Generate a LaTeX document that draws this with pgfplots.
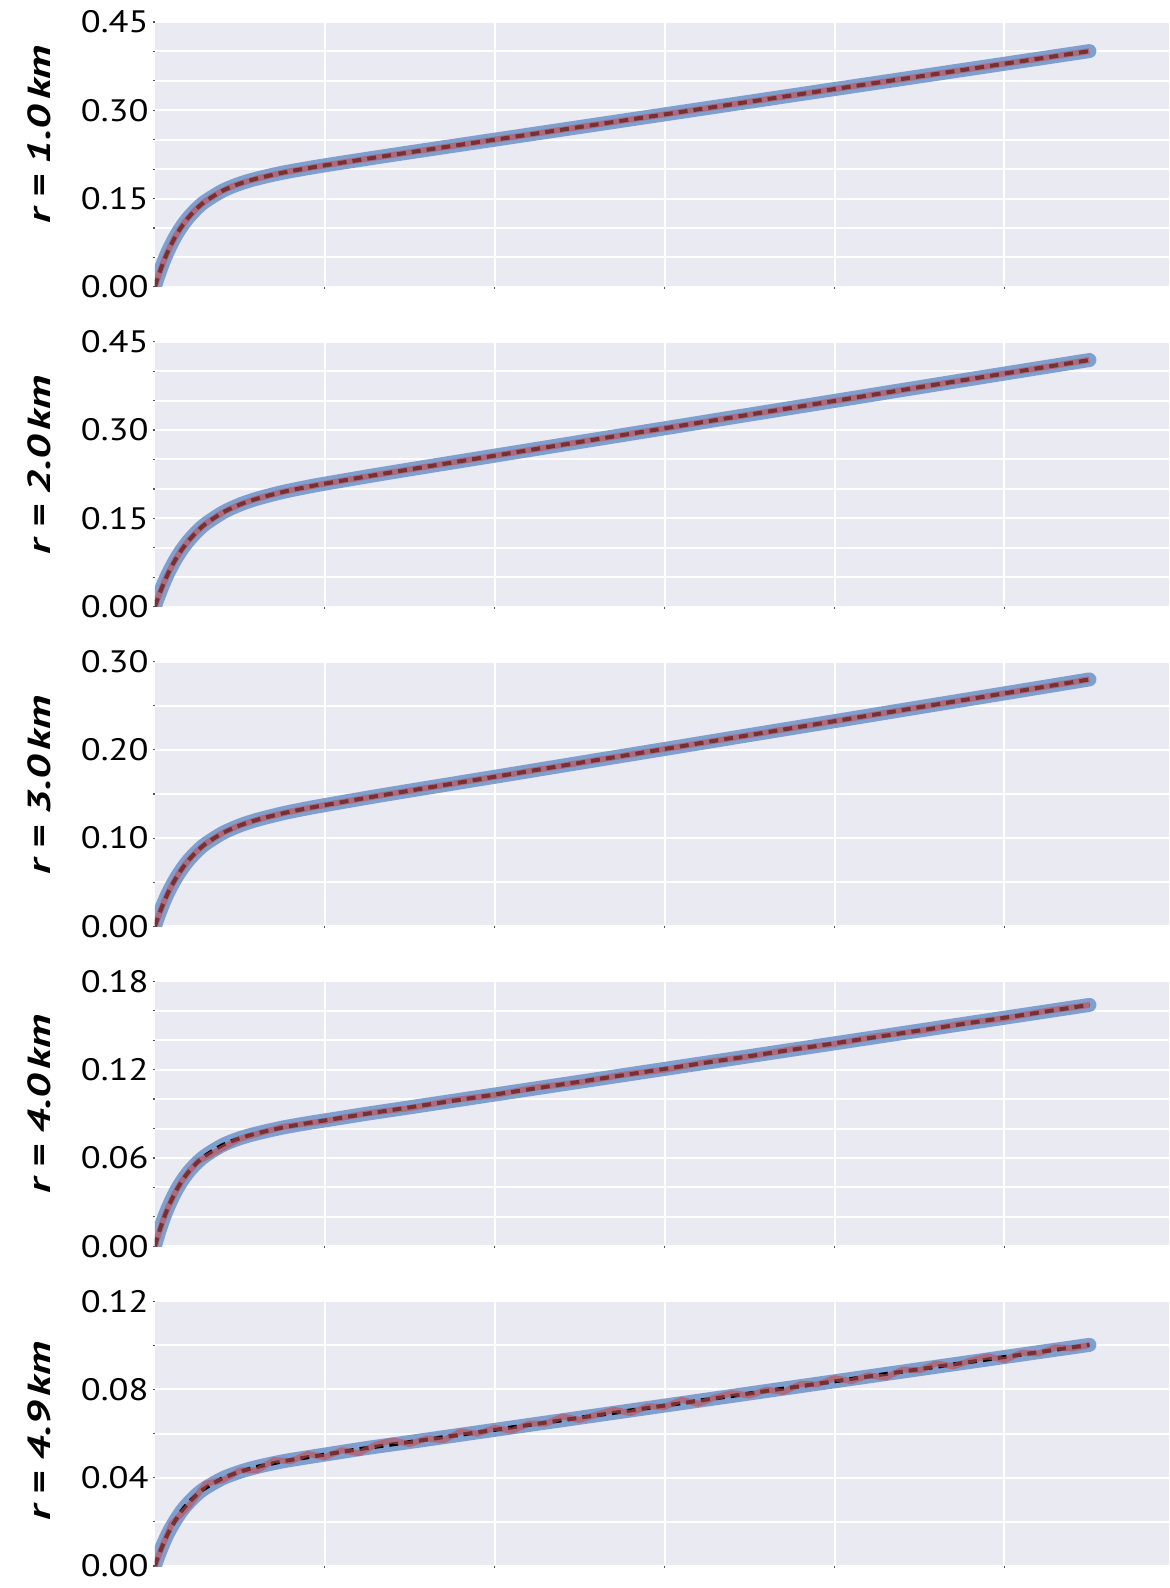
\documentclass[border=0pt]{standalone}
\usepackage{fontspec}
\usepackage{pgfplots}
\pgfplotsset{compat=1.18}
\newfontfamily\tickfont{PT Sans}[FakeStretch=1.18]
\newfontfamily\labelfont{PT Sans}[FakeStretch=1.38]

\definecolor{bgcol}{HTML}{EAEAF2}
\definecolor{fitblue}{RGB}{127,159,207}
\definecolor{obsred}{HTML}{C44E52}
\definecolor{tickcol}{HTML}{555555}

\pgfplotsset{
  panel/.style={
    scale only axis, width=507.5pt, height=132.5pt,
    anchor=north west,
    xmin=0, xmax=5.97, ymin=0,
    axis background/.style={fill=bgcol},
    axis line style={draw=none},
    grid=both,
    major grid style={white, line width=1pt},
    minor grid style={white, line width=1pt},
    xtick={1,2,3,4,5}, xticklabels={},
    xtick pos=bottom, ytick pos=left,
    tick align=outside,
    major tick length=1pt, minor tick length=1pt,
    tick style={color=tickcol, line width=0.6pt},
    yticklabel style={font=\fontsize{15.5pt}{18pt}\tickfont, inner sep=0pt, xshift=-2pt,
      /pgf/number format/.cd, fixed, fixed zerofill, precision=2, assume math mode=true},
    ylabel style={font=\fontsize{16pt}{19pt}\labelfont\bfseries\itshape, anchor=center},
  },
  labelat/.style={ylabel style={at={(axis description cs:-0.114,#1)}}},
  fit/.style={color=fitblue, line width=7pt, line cap=round, smooth},
  model/.style={color=black, line width=2pt, dash pattern=on 4.5pt off 3pt, smooth},
  obs/.style={color=obsred, opacity=0.62, line width=3pt, line join=round},
}

\begin{document}
\begin{tikzpicture}
\path[use as bounding box] (-77.5pt,-783.5pt) rectangle (507.5pt,11pt);

% r = 1.0 km
\begin{axis}[panel, labelat=0.575, at={(0pt,0pt)}, ymax=0.45,
  ytick={0,0.15,0.30,0.45}, minor ytick={0.05,0.10,0.20,0.25,0.35,0.40},
  ylabel={r = 1.0\,km}]
\def\curve{(0,0) (0.02,0.0181) (0.05,0.0420) (0.08,0.0623) (0.12,0.0851) (0.16,0.1035) (0.2,0.1186) (0.25,0.1340) (0.3,0.1459) (0.4,0.1635) (0.5,0.1753) (0.6,0.1839) (0.75,0.1938) (0.9,0.2016) (1.0,0.2064) (1.25,0.2176) (1.5,0.2285) (2,0.2500) (2.5,0.2715) (3,0.2930) (3.5,0.3145) (4,0.3360) (4.5,0.3575) (5,0.3790) (5.5,0.4005)}
\addplot[fit] coordinates {\curve};
\addplot[model] coordinates {\curve};
\addplot[obs, smooth] coordinates {\curve};
\end{axis}

% r = 2.0 km
\begin{axis}[panel, labelat=0.535, at={(0pt,-160pt)}, ymax=0.45,
  ytick={0,0.15,0.30,0.45}, minor ytick={0.05,0.10,0.20,0.25,0.35,0.40},
  ylabel={r = 2.0\,km}]
\def\curve{(0,0) (0.02,0.0164) (0.05,0.0384) (0.08,0.0576) (0.12,0.0794) (0.16,0.0975) (0.2,0.1126) (0.25,0.1283) (0.3,0.1410) (0.4,0.1600) (0.5,0.1734) (0.6,0.1833) (0.75,0.1946) (0.9,0.2036) (1.0,0.2089) (1.25,0.2213) (1.5,0.2332) (2,0.2565) (2.5,0.2798) (3,0.3030) (3.5,0.3263) (4,0.3495) (4.5,0.3728) (5,0.3960) (5.5,0.4190)}
\addplot[fit] coordinates {\curve};
\addplot[model] coordinates {\curve};
\addplot[obs, smooth] coordinates {\curve};
\end{axis}

% r = 3.0 km
\begin{axis}[panel, labelat=0.533, at={(0pt,-320pt)}, ymax=0.30,
  ytick={0,0.10,0.20,0.30}, minor ytick={0.05,0.15,0.25},
  ylabel={r = 3.0\,km}]
\def\curve{(0,0) (0.02,0.0112) (0.05,0.0261) (0.08,0.0391) (0.12,0.0534) (0.16,0.0654) (0.2,0.0754) (0.25,0.0856) (0.3,0.0938) (0.4,0.1059) (0.5,0.1144) (0.6,0.1207) (0.75,0.1280) (0.9,0.1339) (1.0,0.1374) (1.25,0.1458) (1.5,0.1538) (2,0.1695) (2.5,0.1853) (3,0.2010) (3.5,0.2168) (4,0.2325) (4.5,0.2483) (5,0.2640) (5.5,0.2798)}
\addplot[fit] coordinates {\curve};
\addplot[model] coordinates {\curve};
\addplot[obs, smooth] coordinates {\curve};
\end{axis}

% r = 4.0 km
\begin{axis}[panel, labelat=0.536, at={(0pt,-480pt)}, ymax=0.18,
  ytick={0,0.06,0.12,0.18}, minor ytick={0.02,0.04,0.08,0.10,0.14,0.16},
  ylabel={r = 4.0\,km}]
\def\curve{(0,0) (0.02,0.0079) (0.05,0.0183) (0.08,0.0270) (0.12,0.0367) (0.16,0.0445) (0.2,0.0508) (0.25,0.0570) (0.3,0.0618) (0.4,0.0688) (0.5,0.0734) (0.6,0.0767) (0.75,0.0806) (0.9,0.0837) (1.0,0.0855) (1.25,0.0901) (1.5,0.0944) (2,0.1031) (2.5,0.1118) (3,0.1205) (3.5,0.1292) (4,0.1379) (4.5,0.1466) (5,0.1553) (5.5,0.1640)}
\addplot[fit] coordinates {\curve};
\addplot[model] coordinates {\curve};
\addplot[obs] coordinates {(0,0) (0.02,0.0079) (0.05,0.0183) (0.08,0.0270) (0.12,0.0367) (0.16,0.0445) (0.2,0.0508) (0.25,0.0574) (0.5,0.0731) (0.75,0.0811) (1.0,0.0851) (1.25,0.0904) (1.5,0.0939) (1.75,0.0992) (2.0,0.1028) (2.25,0.1080) (2.5,0.1114) (2.75,0.1165) (3.0,0.1200) (3.25,0.1253) (3.5,0.1290) (3.75,0.1340) (4.0,0.1375) (4.25,0.1428) (4.5,0.1463) (4.75,0.1514) (5.0,0.1549) (5.25,0.1600) (5.5,0.1640)};
\end{axis}

% r = 4.9 km
\begin{axis}[panel, labelat=0.51, at={(0pt,-640pt)}, ymax=0.12,
  ytick={0,0.04,0.08,0.12}, minor ytick={0.02,0.06,0.10},
  ylabel={r = 4.9\,km}]
\def\curve{(0,0) (0.02,0.0044) (0.05,0.0102) (0.08,0.0152) (0.12,0.0206) (0.16,0.0252) (0.2,0.0288) (0.25,0.0326) (0.3,0.0355) (0.4,0.0398) (0.5,0.0427) (0.6,0.0449) (0.75,0.0474) (0.9,0.0493) (1.0,0.0505) (1.25,0.0535) (1.5,0.0562) (2,0.0617) (2.5,0.0672) (3,0.0727) (3.5,0.0782) (4,0.0837) (4.5,0.0892) (5,0.0947) (5.5,0.1002)}
\addplot[fit] coordinates {\curve};
\addplot[model] coordinates {\curve};
\addplot[obs] coordinates {(0,0) (0.02,0.0044) (0.05,0.0102) (0.1,0.0192) (0.2,0.0273) (0.3,0.0373) (0.4,0.0389) (0.5,0.0433) (0.6,0.0433) (0.7,0.0480) (0.8,0.0475) (0.9,0.0508) (1.0,0.0493) (1.1,0.0525) (1.2,0.0511) (1.3,0.0550) (1.4,0.0569) (1.5,0.0553) (1.6,0.0578) (1.7,0.0570) (1.8,0.0610) (1.9,0.0600) (2.0,0.0626) (2.1,0.0613) (2.2,0.0645) (2.3,0.0645) (2.4,0.0677) (2.5,0.0662) (2.6,0.0686) (2.7,0.0708) (2.8,0.0693) (2.9,0.0724) (3.0,0.0721) (3.1,0.0753) (3.2,0.0735) (3.3,0.0765) (3.4,0.0783) (3.5,0.0773) (3.6,0.0799) (3.7,0.0789) (3.8,0.0825) (3.9,0.0823) (4.0,0.0851) (4.1,0.0838) (4.2,0.0864) (4.3,0.0854) (4.4,0.0890) (4.5,0.0887) (4.6,0.0918) (4.7,0.0905) (4.8,0.0931) (4.9,0.0950) (5.0,0.0933) (5.1,0.0966) (5.2,0.0963) (5.3,0.0990) (5.4,0.0986) (5.5,0.1002)};
\end{axis}
\end{tikzpicture}
\end{document}
